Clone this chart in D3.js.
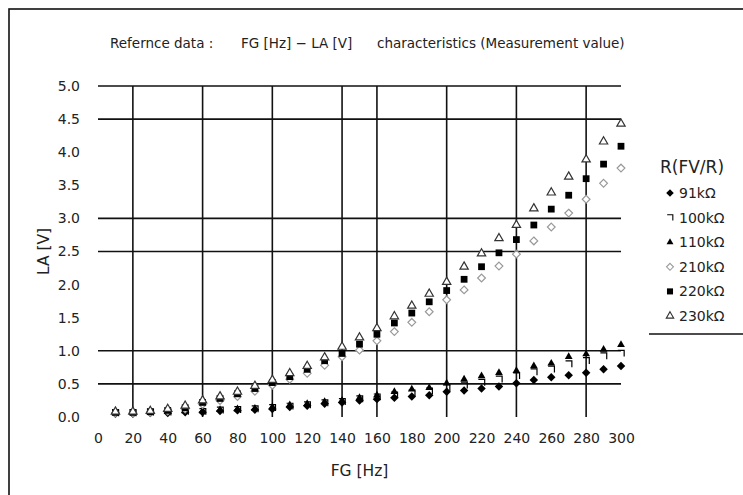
<!DOCTYPE html>
<html>
<head>
<meta charset="utf-8">
<script src="https://cdn.jsdelivr.net/npm/d3@7/dist/d3.min.js"></script>
<style>
  body { margin: 0; background: #fff; }
  svg { display: block; }
</style>
</head>
<body>
<svg id="chart" width="743" height="495"></svg>
<script>
// FG [Hz] measured every 10 Hz
const fg = [10, 20, 30, 40, 50, 60, 70, 80, 90, 100, 110, 120, 130, 140, 150,
  160, 170, 180, 190, 200, 210, 220, 230, 240, 250, 260, 270, 280, 290, 300];

// LA [V] per resistor value
const r91 = [0.05, 0.05, 0.06, 0.06, 0.07, 0.07, 0.09, 0.10, 0.11, 0.12, 0.15, 0.17, 0.20, 0.22, 0.25,
  0.27, 0.29, 0.31, 0.33, 0.38, 0.40, 0.43, 0.46, 0.51, 0.56, 0.60, 0.63, 0.67, 0.72, 0.77];
const r100 = [0.06, 0.06, 0.07, 0.07, 0.08, 0.08, 0.10, 0.11, 0.12, 0.14, 0.16, 0.18, 0.21, 0.23, 0.27,
  0.30, 0.33, 0.36, 0.39, 0.44, 0.48, 0.52, 0.57, 0.62, 0.68, 0.72, 0.80, 0.85, 0.92, 0.96];
const r110 = [0.06, 0.07, 0.07, 0.08, 0.09, 0.09, 0.11, 0.12, 0.13, 0.15, 0.18, 0.20, 0.23, 0.25, 0.29,
  0.33, 0.38, 0.42, 0.44, 0.51, 0.57, 0.62, 0.67, 0.70, 0.77, 0.81, 0.91, 0.95, 1.02, 1.09];
const r210 = [0.06, 0.06, 0.07, 0.09, 0.12, 0.19, 0.25, 0.31, 0.39, 0.48, 0.57, 0.66, 0.78, 0.91, 1.01,
  1.15, 1.29, 1.43, 1.59, 1.77, 1.92, 2.10, 2.28, 2.46, 2.66, 2.87, 3.08, 3.29, 3.53, 3.76];
const r220 = [0.07, 0.07, 0.08, 0.10, 0.14, 0.22, 0.28, 0.35, 0.43, 0.52, 0.61, 0.72, 0.85, 0.96, 1.10,
  1.25, 1.42, 1.57, 1.74, 1.91, 2.08, 2.27, 2.48, 2.68, 2.90, 3.14, 3.35, 3.60, 3.82, 4.09];
const r230 = [0.08, 0.08, 0.09, 0.12, 0.17, 0.25, 0.31, 0.38, 0.47, 0.56, 0.66, 0.77, 0.90, 1.06, 1.20,
  1.34, 1.52, 1.68, 1.86, 2.04, 2.27, 2.47, 2.70, 2.90, 3.15, 3.39, 3.63, 3.89, 4.16, 4.43];

const seriesNames = ["91k\u03A9", "100k\u03A9", "110k\u03A9", "210k\u03A9", "220k\u03A9", "230k\u03A9"];
const seriesValues = [r91, r100, r110, r210, r220, r230];

// axis labels and the grid lines that are actually drawn
const xTicks = [0, 20, 40, 60, 80, 100, 120, 140, 160, 180, 200, 220, 240, 260, 280, 300];
const yTicks = [0, 0.5, 1, 1.5, 2, 2.5, 3, 3.5, 4, 4.5, 5];
const xGrid = [20, 60, 100, 140, 160, 200, 240, 280];
const yGrid = [0.5, 1, 2.5, 3, 4.5, 5];

const titleParts = ["Refernce data :", "FG [Hz] \u2212 LA [V]", "characteristics (Measurement value)"];

// marker shapes
const diamond = {
  draw(ctx, size) {
    const r = Math.sqrt(size / 2);
    ctx.moveTo(0, -r); ctx.lineTo(r, 0); ctx.lineTo(0, r); ctx.lineTo(-r, 0); ctx.closePath();
  }
};
const hook = {
  draw(ctx, size) {
    const r = Math.sqrt(size) / 2;
    ctx.moveTo(-r, -r); ctx.lineTo(r, -r); ctx.lineTo(r, r);
  }
};
const markers = [
  { type: diamond, size: 36, fill: "#000", stroke: "none" },
  { type: hook, size: 40, fill: "none", stroke: "#000" },
  { type: d3.symbolTriangle, size: 26, fill: "#000", stroke: "none" },
  { type: diamond, size: 30, fill: "#fff", stroke: "#999" },
  { type: d3.symbolSquare, size: 46, fill: "#000", stroke: "none" },
  { type: d3.symbolTriangle, size: 30, fill: "#fff", stroke: "#333" }
];

const font = "'DejaVu Sans', sans-serif";
const svg = d3.select("#chart");

// outer chart border (runs off the right/bottom of the picture)
svg.append("rect")
  .attr("x", 9).attr("y", 9)
  .attr("width", 800).attr("height", 600)
  .attr("fill", "none")
  .attr("stroke", "#111")
  .attr("stroke-width", 1.6);

const x = d3.scaleLinear().domain([0, 300]).range([98, 621]);
const y = d3.scaleLinear().domain([0, 5]).range([417, 86]);

// title, in three runs like the original spacing
svg.append("text")
  .attr("font-family", font)
  .attr("font-size", 13.5)
  .attr("fill", "#222")
  .attr("y", 48)
  .selectAll("tspan")
  .data(titleParts)
  .enter().append("tspan")
  .attr("x", (d, i) => [110, 241, 377][i])
  .text(d => d);

// grid
const grid = svg.append("g").attr("stroke", "#111").attr("stroke-width", 1.6);
grid.selectAll("line.h")
  .data(yGrid)
  .enter().append("line")
  .attr("class", "h")
  .attr("x1", x(0)).attr("x2", x(300))
  .attr("y1", d => y(d)).attr("y2", d => y(d));
grid.selectAll("line.v")
  .data(xGrid)
  .enter().append("line")
  .attr("class", "v")
  .attr("x1", d => x(d)).attr("x2", d => x(d))
  .attr("y1", y(5)).attr("y2", y(0));

// axes (labels only)
const xAxis = svg.append("g")
  .attr("transform", "translate(0," + y(0) + ")")
  .call(d3.axisBottom(x).tickValues(xTicks).tickSize(0).tickPadding(16));
const yAxis = svg.append("g")
  .attr("transform", "translate(" + x(0) + ",0)")
  .call(d3.axisLeft(y).tickValues(yTicks).tickFormat(d3.format(".1f")).tickSize(0).tickPadding(18));
[xAxis, yAxis].forEach(a => {
  a.select(".domain").remove();
  a.attr("font-family", font).attr("font-size", 14);
  a.selectAll("text").attr("fill", "#222");
});

svg.append("text")
  .attr("x", (x(0) + x(300)) / 2).attr("y", 476)
  .attr("text-anchor", "middle")
  .attr("font-family", font).attr("font-size", 15.5).attr("fill", "#222")
  .text("FG [Hz]");
svg.append("text")
  .attr("transform", "translate(49," + (y(0) + y(5)) / 2 + ") rotate(-90)")
  .attr("text-anchor", "middle")
  .attr("font-family", font).attr("font-size", 15.5).attr("fill", "#222")
  .text("LA [V]");

// data points
const points = svg.append("g");
seriesValues.forEach((vals, s) => {
  const m = markers[s];
  points.append("g")
    .selectAll("path")
    .data(vals)
    .enter().append("path")
    .attr("transform", (d, i) => "translate(" + x(fg[i]) + "," + y(d) + ")")
    .attr("d", d3.symbol().type(m.type).size(m.size))
    .attr("fill", m.fill)
    .attr("stroke", m.stroke)
    .attr("stroke-width", 1.2);
});

// legend
const legend = svg.append("g").attr("font-family", font);
legend.append("text")
  .attr("x", 660).attr("y", 173)
  .attr("font-size", 17).attr("fill", "#222")
  .text("R(FV/R)");

const item = legend.selectAll("g.item")
  .data(seriesNames)
  .enter().append("g")
  .attr("class", "item")
  .attr("transform", (d, i) => "translate(0," + (193 + i * 24.6) + ")");
item.append("path")
  .attr("transform", "translate(670,0)")
  .attr("d", (d, i) => d3.symbol().type(markers[i].type).size(markers[i].size * 0.8)())
  .attr("fill", (d, i) => markers[i].fill)
  .attr("stroke", (d, i) => markers[i].stroke)
  .attr("stroke-width", 1.1);
item.append("text")
  .attr("x", 679).attr("dy", "0.36em")
  .attr("font-size", 14).attr("fill", "#222")
  .text(d => d);

legend.append("line")
  .attr("x1", 649).attr("x2", 743)
  .attr("y1", 334).attr("y2", 334)
  .attr("stroke", "#111").attr("stroke-width", 1.6);
</script>
</body>
</html>
